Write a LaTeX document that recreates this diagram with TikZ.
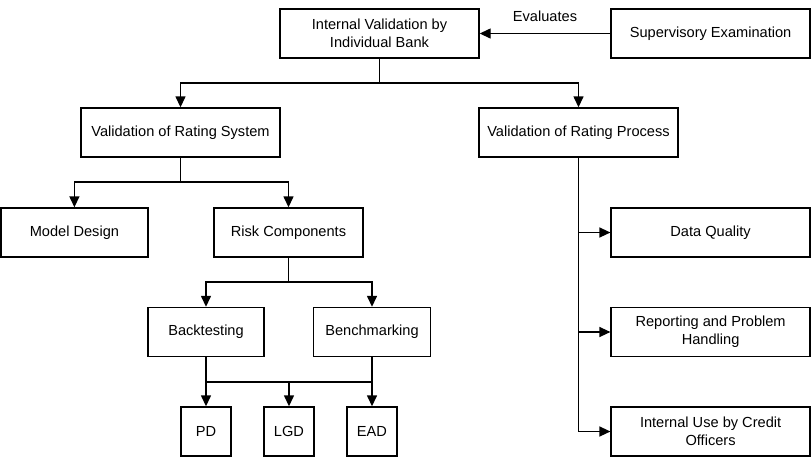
\documentclass[tikz,border=0pt]{standalone}
\usepackage{fontspec}
\setmainfont{Liberation Sans}
\usetikzlibrary{arrows.meta}
\begin{document}
\begin{tikzpicture}[x=1pt,y=-1pt,
  box/.style={draw, line width=1.4pt, minimum height=49pt, align=center, inner sep=0pt,
    font=\fontsize{14.6}{18}\selectfont},
  conn/.style={line width=1.4pt},
  arr/.style={conn, -{Triangle[length=11pt,width=10pt]}}]
\useasboundingbox (0,0) rectangle (811,472);
% nodes
\node[box, minimum width=199pt] (ivb) at (379.5,33.5) {Internal Validation by\\Individual Bank};
\node[box, minimum width=199pt] (sup) at (710.6,33.5) {Supervisory Examination};
\node[font=\fontsize{14.6}{18}\selectfont] (ev) at (545,16) {Evaluates};
\node[box, minimum width=199pt] (vrs) at (180.5,132.5) {Validation of Rating System};
\node[box, minimum width=199pt] (vrp) at (578.5,132.5) {Validation of Rating Process};
\node[box, minimum width=147pt] (md) at (74.4,232.5) {Model Design};
\node[box, minimum width=149pt] (rc) at (288.5,232.5) {Risk Components};
\node[box, minimum width=116pt] (bt) at (206,332) {Backtesting};
\node[box, minimum width=117pt] (bm) at (372,332) {Benchmarking};
\node[box, minimum width=50pt] (pd) at (206,431.5) {PD};
\node[box, minimum width=50pt] (lgd) at (289,431.5) {LGD};
\node[box, minimum width=50pt] (ead) at (372,431.5) {EAD};
\node[box, minimum width=199pt] (dq) at (710.6,232.5) {Data Quality};
\node[box, minimum width=199pt] (rp) at (710.6,332) {Reporting and Problem\\Handling};
\node[box, minimum width=199pt] (iu) at (710.6,431.5) {Internal Use by Credit\\Officers};
% junctions
\coordinate (j1) at (379.5,83);
\coordinate (j2) at (180.5,182);
\coordinate (j3) at (288.5,282);
\coordinate (j4) at (289,382);
% connectors
\draw[arr] (sup.west) -- (ivb.east);
\draw[conn] (ivb.south) -- (j1);
\draw[arr] (j1) -| (vrs.north);
\draw[arr] (j1) -| (vrp.north);
\draw[conn] (vrs.south) -- (j2);
\draw[arr] (j2) -| (md.north);
\draw[arr] (j2) -| (rc.north);
\draw[conn] (rc.south) -- (j3);
\draw[arr] (j3) -| (bt.north);
\draw[arr] (j3) -| (bm.north);
\draw[conn] (bt.south) |- (j4) -| (bm.south);
\draw[arr] (pd.north |- j4) -- (pd.north);
\draw[arr] (j4) -- (lgd.north);
\draw[arr] (ead.north |- j4) -- (ead.north);
\draw[arr] (vrp.south) |- (iu.west);
\draw[arr] (vrp.south |- dq.west) -- (dq.west);
\draw[arr] (vrp.south |- rp.west) -- (rp.west);
\end{tikzpicture}
\end{document}
